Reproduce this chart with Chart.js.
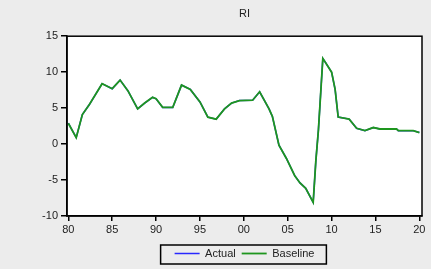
<!DOCTYPE html>
<html>
<head>
<meta charset="utf-8">
<script src="https://cdn.jsdelivr.net/npm/chart.js@4"></script>
<style>
  html, body { margin: 0; padding: 0; background: #ececec; }
  #wrap { width: 431px; height: 269px; }
</style>
</head>
<body>
<div id="wrap"><canvas id="riChart" width="431" height="269"></canvas></div>
<script>
// values (decimal years)
const years = [1980, 1980.9, 1981.6, 1982.4, 1983.85, 1985.0, 1985.9, 1986.8, 1987.9, 1988.7,
  1989.6, 1990.0, 1990.75, 1991.9, 1992.9, 1993.9, 1995.0, 1995.9, 1996.85, 1997.8,
  1998.6, 1999.5, 2001.0, 2001.8, 2002.87, 2003.25, 2004.0, 2004.85, 2005.8, 2006.4,
  2007.05, 2007.9, 2008.0, 2008.2, 2008.5, 2008.7, 2009.0, 2009.3, 2010.0, 2010.4,
  2010.75, 2012.0, 2012.85, 2013.8, 2014.75, 2015.5, 2017.4, 2017.6, 2019.3, 2020.0];
const baseline = [2.9, 0.9, 4.1, 5.5, 8.4, 7.7, 8.9, 7.4, 4.9, 5.7,
  6.5, 6.3, 5.1, 5.1, 8.2, 7.6, 5.86, 3.75, 3.47, 4.9,
  5.7, 6.05, 6.1, 7.27, 4.9, 3.85, -0.15, -2.0, -4.4, -5.4,
  -6.15, -8.1, -6.25, -2.4, 2.0, 5.95, 11.9, 11.35, 10.0, 7.6,
  3.75, 3.47, 2.2, 1.87, 2.3, 2.1, 2.1, 1.87, 1.87, 1.6];
// actual history lies under the baseline line
const actual = [2.9, 0.9, 4.1, 5.5, 8.4, 7.7, 8.9, 7.4, 4.9, 5.7,
  6.5, 6.3, 5.1, 5.1, 8.2, 7.6, 5.86, 3.75, 3.47, 4.9,
  5.7, 6.05, 6.1, 7.27, 4.9, 3.85, -0.15, -2.0, -4.4, -5.4,
  -6.15, -8.1, -6.25, -2.4, 2.0, 5.95, 11.9, 11.35, 10.0, 7.6,
  3.75, 3.47, 2.2, 1.87, 2.3, 2.1, 2.1, 1.87, 1.87, 1.6];
const xTicks = [1980, 1985, 1990, 1995, 2000, 2005, 2010, 2015, 2020];
const yTicks = [-10, -5, 0, 5, 10, 15];

const pts = (vals) => years.map((y, i) => ({ x: y, y: vals[i] }));
const font = { family: "Liberation Sans", size: 11 };

const frame = {
  id: "frame",
  beforeDraw(chart) {
    const { ctx, chartArea: a } = chart;
    ctx.save();
    ctx.fillStyle = "#ececec";
    ctx.fillRect(0, 0, chart.width, chart.height);
    ctx.fillStyle = "#ffffff";
    ctx.fillRect(a.left, a.top, a.right - a.left, a.bottom - a.top);
    ctx.restore();
  },
  afterDraw(chart) {
    const { ctx, chartArea: a } = chart;
    ctx.save();
    ctx.strokeStyle = "#000";
    ctx.lineWidth = 1.5;
    ctx.strokeRect(a.left, a.top, a.right - a.left, a.bottom - a.top);
    // box round the legend
    const boxes = chart.legend.legendHitBoxes;
    if (boxes && boxes.length) {
      let l = Infinity, r = -Infinity, t = Infinity, b = -Infinity;
      boxes.forEach(h => {
        l = Math.min(l, h.left); r = Math.max(r, h.left + h.width);
        t = Math.min(t, h.top); b = Math.max(b, h.top + h.height);
      });
      ctx.lineWidth = 1.5;
      ctx.strokeRect(l - 14, t - 3, r - l + 26, b - t + 8);
    }
    ctx.restore();
  }
};

new Chart(document.getElementById("riChart"), {
  type: "line",
  data: {
    datasets: [
      {
        label: "Actual",
        data: pts(actual),
        borderColor: "rgb(40,40,255)",
        backgroundColor: "rgb(40,40,255)",
        borderWidth: 1.5,
        order: 2,
      },
      {
        label: "Baseline",
        data: pts(baseline),
        borderColor: "rgb(30,150,30)",
        backgroundColor: "rgb(30,150,30)",
        borderWidth: 1.8,
        order: 1,
      },
    ],
  },
  options: {
    responsive: false,
    animation: false,
    elements: { point: { radius: 0 }, line: { tension: 0 } },
    layout: { padding: { left: 0, right: 9, top: 0, bottom: 0 } },
    plugins: {
      title: {
        display: true,
        fullSize: false,
        text: "RI",
        color: "#222",
        font: { family: "Liberation Sans", size: 11, weight: "normal" },
        padding: { top: 7, bottom: 16 },
      },
      legend: {
        position: "bottom",
        fullSize: false,
        labels: {
          usePointStyle: true,
          pointStyle: "line",
          pointStyleWidth: 25,
          boxHeight: 11,
          color: "#222",
          font: font,
          padding: 6,
          sort: (a, b) => a.datasetIndex - b.datasetIndex,
        },
      },
      tooltip: { enabled: false },
    },
    scales: {
      x: {
        type: "linear",
        min: 1979.85,
        max: 2020.3,
        afterBuildTicks: (s) => { s.ticks = xTicks.map(v => ({ value: v })); },
        afterFit: (s) => { s.height = 26; },
        ticks: {
          autoSkip: false,
          maxRotation: 0,
          color: "#222",
          font: font,
          padding: 2,
          callback: (v) => String(v % 100).padStart(2, "0"),
        },
        grid: { drawOnChartArea: false, drawTicks: true, tickLength: 5, color: "#000", lineWidth: 1.5 },
        border: { display: true, color: "#000", width: 1.5 },
      },
      y: {
        min: -10,
        max: 15,
        afterBuildTicks: (s) => { s.ticks = yTicks.map(v => ({ value: v })); },
        afterFit: (s) => { s.width = 67; },
        ticks: {
          color: "#222",
          font: font,
          padding: 3,
        },
        grid: { drawOnChartArea: false, drawTicks: true, tickLength: 6, color: "#000", lineWidth: 1.5 },
        border: { display: true, color: "#000", width: 1.5 },
      },
    },
  },
  plugins: [frame],
});
</script>
</body>
</html>
